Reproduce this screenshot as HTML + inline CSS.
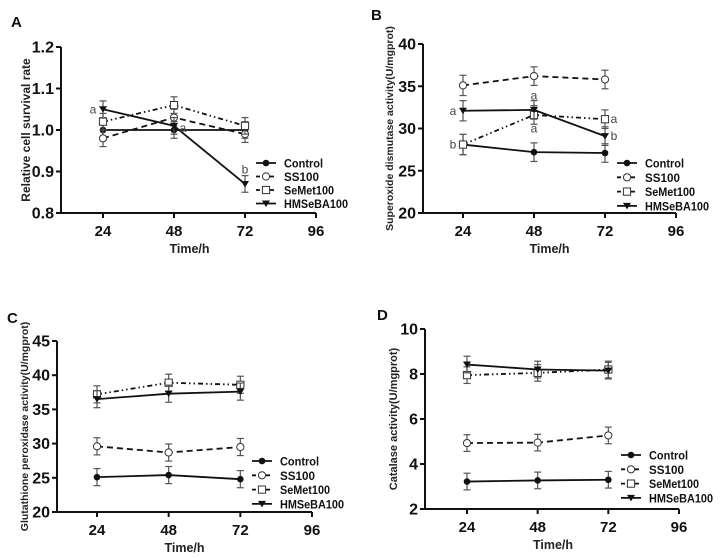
<!DOCTYPE html>
<html><head><meta charset="utf-8">
<style>
body{margin:0;background:#fff;}
svg{display:block;font-family:"Liberation Sans",Arial,sans-serif;}
</style></head>
<body>
<svg id="fig" width="720" height="558" viewBox="0 0 720 558"></svg>
<script>
const times = [24, 48, 72];
const xTicks = [24, 48, 72, 96];
const seriesNames = ["Control", "SS100", "SeMet100", "HMSeBA100"];

const aControl = [1.0, 1.0, 1.0];
const aSS = [0.98, 1.03, 0.99];
const aSeMet = [1.02, 1.06, 1.01];
const aHM = [1.05, 1.01, 0.87];
const aErr = [0.02, 0.02, 0.02];
const aTicks = ["0.8", "0.9", "1.0", "1.1", "1.2"];

const bControl = [28.1, 27.2, 27.1];
const bSS = [35.1, 36.2, 35.8];
const bSeMet = [28.1, 31.6, 31.1];
const bHM = [32.1, 32.2, 29.1];
const bErr = [1.2, 1.1, 1.1];
const bTicks = ["20", "25", "30", "35", "40"];

const cControl = [25.1, 25.4, 24.8];
const cSS = [29.6, 28.7, 29.5];
const cSeMet = [37.2, 38.9, 38.6];
const cHM = [36.5, 37.3, 37.6];
const cErr = [1.25, 1.25, 1.25];
const cTicks = ["20", "25", "30", "35", "40", "45"];

const dControl = [3.22, 3.27, 3.3];
const dSS = [4.93, 4.95, 5.27];
const dSeMet = [7.95, 8.05, 8.2];
const dHM = [8.42, 8.2, 8.15];
const dErr = [0.37, 0.37, 0.37];
const dTicks = ["2", "4", "6", "8", "10"];

const NS = "http://www.w3.org/2000/svg";
const svg = document.getElementById("fig");
const legendTextW = [39, 35, 50, 64];
function el(tag, attrs, parent, text){
  const e = document.createElementNS(NS, tag);
  for (const k in attrs) e.setAttribute(k, attrs[k]);
  if (text !== undefined) e.textContent = text;
  (parent || svg).appendChild(e);
  return e;
}
const styles = [
  {dash:"", marker:"fcircle"},
  {dash:"6,4", marker:"ocircle"},
  {dash:"5,3,1.5,3,1.5,3", marker:"osquare"},
  {dash:"", marker:"tri"}
];
function marker(g, type, x, y){
  let m;
  if (type === "fcircle") m = el("circle",{cx:x,cy:y,r:3.3,fill:"#111"},g);
  else if (type === "ocircle") m = el("circle",{cx:x,cy:y,r:3.6,fill:"#fff",stroke:"#333","stroke-width":1},g);
  else if (type === "osquare") m = el("rect",{x:x-3.6,y:y-3.6,width:7.2,height:7.2,fill:"#fff",stroke:"#333","stroke-width":1},g);
  else m = el("polygon",{points:`${x-4},${y-3} ${x+4},${y-3} ${x},${y+3.5}`,fill:"#111"},g);
  return m;
}

function panel(p){
  const g = el("g",{});
  
  
  const xs = t => p.x24 + (t - 24) * (p.x96 - p.x24) / 72;
  const ys = v => p.yBot - (v - p.vmin) * (p.yBot - p.yTop) / (p.vmax - p.vmin);
  const lbl = el("text",{x:p.lx,y:p.ly,"font-size":15,"font-weight":"bold",fill:"#111"},g,p.label);
  
  
  const ax = el("g",{},g);
  
  
  el("line",{x1:p.axL,y1:p.yTop,x2:p.axL,y2:p.yBot,stroke:"#111","stroke-width":2},ax);
  el("line",{x1:p.axL-1,y1:p.yBot,x2:p.x96,y2:p.yBot,stroke:"#111","stroke-width":2},ax);
  p.ticks.forEach((t,i)=>{
    const v = p.vmin + i*(p.vmax-p.vmin)/(p.ticks.length-1);
    const y = ys(v);
    el("line",{x1:p.axL-5,y1:y,x2:p.axL,y2:y,stroke:"#111","stroke-width":2},ax);
    const tl = el("text",{x:p.axL-7,y:y+5.5,"font-size":16,"font-weight":"bold","text-anchor":"end",fill:"#111"},ax,t);
    
    
  });
  xTicks.forEach(t=>{
    const x = xs(t);
    el("line",{x1:x,y1:p.yBot,x2:x,y2:p.yBot+5,stroke:"#111","stroke-width":2},ax);
    const tl = el("text",{x:x,y:p.yBot+23,"font-size":15,"font-weight":"bold","text-anchor":"middle",fill:"#111"},ax,String(t));
    
    
  });
  const xt = el("text",{x:(p.x24+p.x96)/2 - 20,y:p.yBot+40,"font-size":12.5,"font-weight":"bold","text-anchor":"middle",fill:"#222"},ax,"Time/h");
  
  
  const yt = el("text",{x:0,y:0,"font-size":p.ytSize,"font-weight":"bold","text-anchor":"middle",fill:"#222",transform:`translate(${p.ytX},${(p.yTop+p.yBot)/2}) rotate(-90)`},ax,p.ytitle);
  
  
  p.data.forEach((vals,si)=>{
    const sg = el("g",{},g);
    
    
    vals.forEach((v,i)=>{
      const x = xs(times[i]), e = p.err[i];
      el("line",{x1:x,y1:ys(v+e),x2:x,y2:ys(v-e),stroke:"#555","stroke-width":1.2},sg);
      el("line",{x1:x-3.5,y1:ys(v+e),x2:x+3.5,y2:ys(v+e),stroke:"#555","stroke-width":1.2},sg);
      el("line",{x1:x-3.5,y1:ys(v-e),x2:x+3.5,y2:ys(v-e),stroke:"#555","stroke-width":1.2},sg);
    });
    const pts = vals.map((v,i)=>xs(times[i])+","+ys(v)).join(" ");
    const pl = el("polyline",{points:pts,fill:"none",stroke:"#111","stroke-width":1.8,"stroke-dasharray":styles[si].dash},sg);
    
    
    vals.forEach((v,i)=>{
      const m = marker(sg, styles[si].marker, xs(times[i]), ys(v));
      
      
    });
  });
  (p.ann||[]).forEach(a=>{
    const t = el("text",{x:xs(a[0])+a[2],y:ys(a[1])+4,"font-size":12,fill:"#444","text-anchor":"middle"},g,a[3]);
    
    
  });
  seriesNames.forEach((n,i)=>{
    const lg = el("g",{},g);
    
    
    const y = p.legY + i*p.legDy;
    el("line",{x1:p.legX,y1:y,x2:p.legX+20,y2:y,stroke:"#111","stroke-width":1.8,"stroke-dasharray":styles[i].dash ? "4,3" : ""},lg);
    marker(lg, styles[i].marker, p.legX+10, y);
    el("text",{x:p.legX+28,y:y+4.5,"font-size":12,"font-weight":"bold",fill:"#111",textLength:legendTextW[i],lengthAdjust:"spacingAndGlyphs"},lg,n);
  });
}

panel({id:"a",label:"A",lx:11,ly:27,axL:61,yTop:47,yBot:213,x24:103,x96:316,vmin:0.8,vmax:1.2,ticks:aTicks,
  ytitle:"Relative cell survival rate",ytSize:12,ytX:30,
  data:[aControl,aSS,aSeMet,aHM],err:aErr,legX:256,legY:163,legDy:13.5,
  ann:[[24,1.05,-10,"a"],[48,1.005,9,"a"],[72,0.905,0,"b"]]});
panel({id:"b",label:"B",lx:371,ly:20,axL:423,yTop:44,yBot:213,x24:463,x96:676,vmin:20,vmax:40,ticks:bTicks,
  ytitle:"Superoxide dismutase activity(U/mgprot)",ytSize:10.5,ytX:393,
  data:[bControl,bSS,bSeMet,bHM],err:bErr,legX:617,legY:163,legDy:14.3,
  ann:[[24,32.1,-10,"a"],[24,28.1,-10,"b"],[48,33.9,0,"a"],[48,30.0,0,"a"],[72,31.1,9,"a"],[72,29.1,9,"b"]]});
panel({id:"c",label:"C",lx:7,ly:323,axL:57,yTop:341,yBot:512,x24:97,x96:312,vmin:20,vmax:45,ticks:cTicks,
  ytitle:"Glutathione peroxidase activity(U/mgprot)",ytSize:10.5,ytX:28,
  data:[cControl,cSS,cSeMet,cHM],err:cErr,legX:252,legY:461,legDy:14.3});
panel({id:"d",label:"D",lx:377,ly:320,axL:425,yTop:329,yBot:509,x24:467,x96:679,vmin:2,vmax:10,ticks:dTicks,
  ytitle:"Catalase activity(U/mgprot)",ytSize:11,ytX:397,
  data:[dControl,dSS,dSeMet,dHM],err:dErr,legX:621,legY:455,legDy:14.3});
</script>
</body></html>
